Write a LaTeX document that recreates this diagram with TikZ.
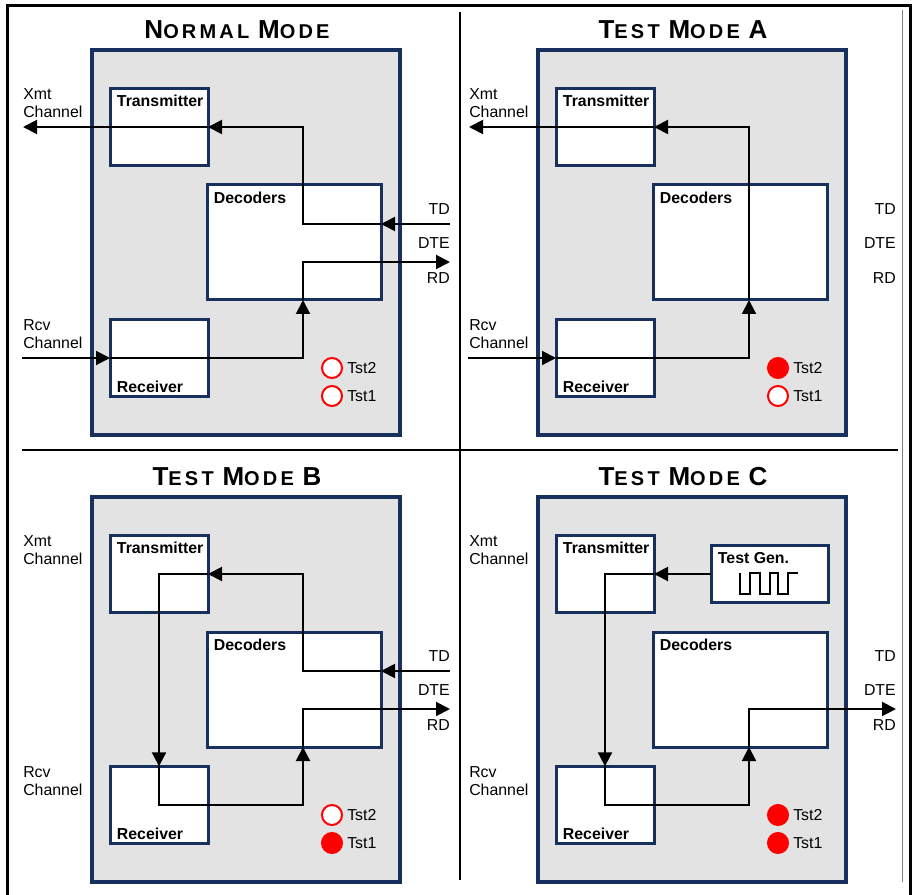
\documentclass[tikz,border=0pt]{standalone}
\usepackage{fontspec}
\setmainfont{Liberation Sans}
\newfontfamily\titlefont[LetterSpace=16]{Liberation Sans}
\usetikzlibrary{arrows.meta,positioning}
\definecolor{navy}{RGB}{23,48,94}
\definecolor{panelgray}{RGB}{227,227,227}
\newcommand\dfont{\fontsize{11.9}{13.5}\selectfont}
\newcommand\capletter[1]{{\fontsize{19.5}{19.5}\selectfont #1}}

\begin{document}
\begin{tikzpicture}[
    x=0.75pt, y=-0.75pt,
    modetitle/.style={font=\titlefont\bfseries\fontsize{15}{16}\selectfont, inner sep=0pt},
    panel/.style={draw=navy, line width=2.6pt, fill=panelgray, minimum width=231pt, minimum height=288.75pt, outer sep=0pt},
    unit/.style={draw=navy, line width=2.25pt, fill=white, minimum width=73.5pt, minimum height=58pt, outer sep=0pt},
    unitname/.style={font=\dfont\bfseries, inner sep=5pt},
    lamp/.style={circle, draw=red, line width=1.5pt, minimum size=15pt, inner sep=0pt},
    lamptext/.style={font=\dfont, inner sep=0pt, label distance=3pt},
    chan/.style={font=\dfont, anchor=west, align=left, inner sep=0pt},
    dte/.style={font=\dfont, anchor=east, inner sep=0pt},
    flow/.style={-{Triangle[length=10.5pt,width=10.5pt]}, line width=1.5pt}
]
    \useasboundingbox (0,0) rectangle (915,895);

    % frame and dividers
    \draw[line width=2.25pt] (7,900) -- (7,6) -- (910,6) -- (910,900);
    \draw[gray, line width=0.75pt] (902,10) -- (902,882);
    \draw[line width=1.1pt] (460,12) -- (460,880);
    \draw[line width=1.5pt] (22,450) -- (898,450);

    % the four panels
    \foreach \q/\dx/\dy/\ttl/\fa/\fb in {
        N/0/0/{\capletter{N}ORMAL \capletter{M}ODE}/white/white,
        A/446/0/{\capletter{T}EST \capletter{M}ODE \capletter{A}}/red/white,
        B/0/447/{\capletter{T}EST \capletter{M}ODE \capletter{B}}/white/red,
        C/446/447/{\capletter{T}EST \capletter{M}ODE \capletter{C}}/red/red}{
    \begin{scope}[shift={(\dx,\dy)}]
        \node[modetitle] (title\q) at (237,30) {\ttl};
        \node[panel] (panel\q) at (246,242.5) {};
        \node[unit, label={[unitname, anchor=north west]north west:Transmitter}] (tx\q) at (159,127) {};
        \node[unit, label={[unitname, anchor=south west, inner ysep=3pt]south west:Receiver}] (rx\q) at (159,358) {};
        \node[unit, minimum width=130.5pt, minimum height=86.25pt,
              label={[unitname, anchor=north west]north west:Decoders}] (dec\q) at (294,242.5) {};
        \node[lamp, fill=\fa, label={[lamptext]right:Tst2}] (tstb\q) at (332,368) {};
        \node[lamp, fill=\fb, below=4.5pt of tstb\q, label={[lamptext]right:Tst1}] (tsta\q) {};
        \node[chan] (xmtlbl\q) at (23,103) {Xmt\\Channel};
        \node[chan] (rcvlbl\q) at (23,334) {Rcv\\Channel};
        \node[dte] (tdlbl\q) at (450,209) {TD};
        \node[dte] (dtelbl\q) at (450,243) {DTE};
        \node[dte] (rdlbl\q) at (450,278) {RD};
        \coordinate (xmt\q) at (23,127);
        \coordinate (rcv\q) at (22,358);
        \coordinate (tdin\q) at (450,224);
        \coordinate (rdout\q) at (450,262);
        \coordinate (bend\q) at (303,242.5);
    \end{scope}
    }

    % test generator
    \node[unit, minimum width=87.75pt, minimum height=42.75pt,
          label={[unitname, anchor=north west]north west:Test Gen.}] (genC) at (769.5,574) {};
    \draw[line width=1.5pt] (740,573) -- (740,594) -- (750,594) -- (750,573) -- (760,573) -- (760,594)
        -- (770,594) -- (770,573) -- (778,573) -- (778,594) -- (788,594) -- (788,573) -- (798,573);

    % normal mode
    \draw[flow] (tdinN) -- (tdinN -| decN.east);
    \draw[flow] (tdinN -| decN.east) -- (tdinN -| bendN) |- (txN.east);
    \draw[flow] (txN.east) -- (xmtN);
    \draw[flow] (rcvN) -- (rxN.west);
    \draw[flow] (rxN.west) -| (bendN |- decN.south);
    \draw[flow] (bendN |- decN.south) |- (rdoutN);

    % test mode A
    \draw[flow] (rcvA) -- (rxA.west);
    \draw[flow] (rxA.west) -| (bendA |- decA.south);
    \draw[flow] (bendA |- decA.south) |- (txA.east);
    \draw[flow] (txA.east) -- (xmtA);

    % test mode B
    \draw[flow] (tdinB) -- (tdinB -| decB.east);
    \draw[flow] (tdinB -| decB.east) -- (tdinB -| bendB) |- (txB.east);
    \draw[flow] (txB.east) -| (rxB.north);
    \draw[flow] (rxB.north) -- (rxB.center) -| (bendB |- decB.south);
    \draw[flow] (bendB |- decB.south) |- (rdoutB);

    % test mode C
    \draw[flow] (genC.west) -- (txC.east);
    \draw[flow] (txC.east) -| (rxC.north);
    \draw[flow] (rxC.north) -- (rxC.center) -| (bendC |- decC.south);
    \draw[flow] (bendC |- decC.south) |- (rdoutC);

\end{tikzpicture}
\end{document}
